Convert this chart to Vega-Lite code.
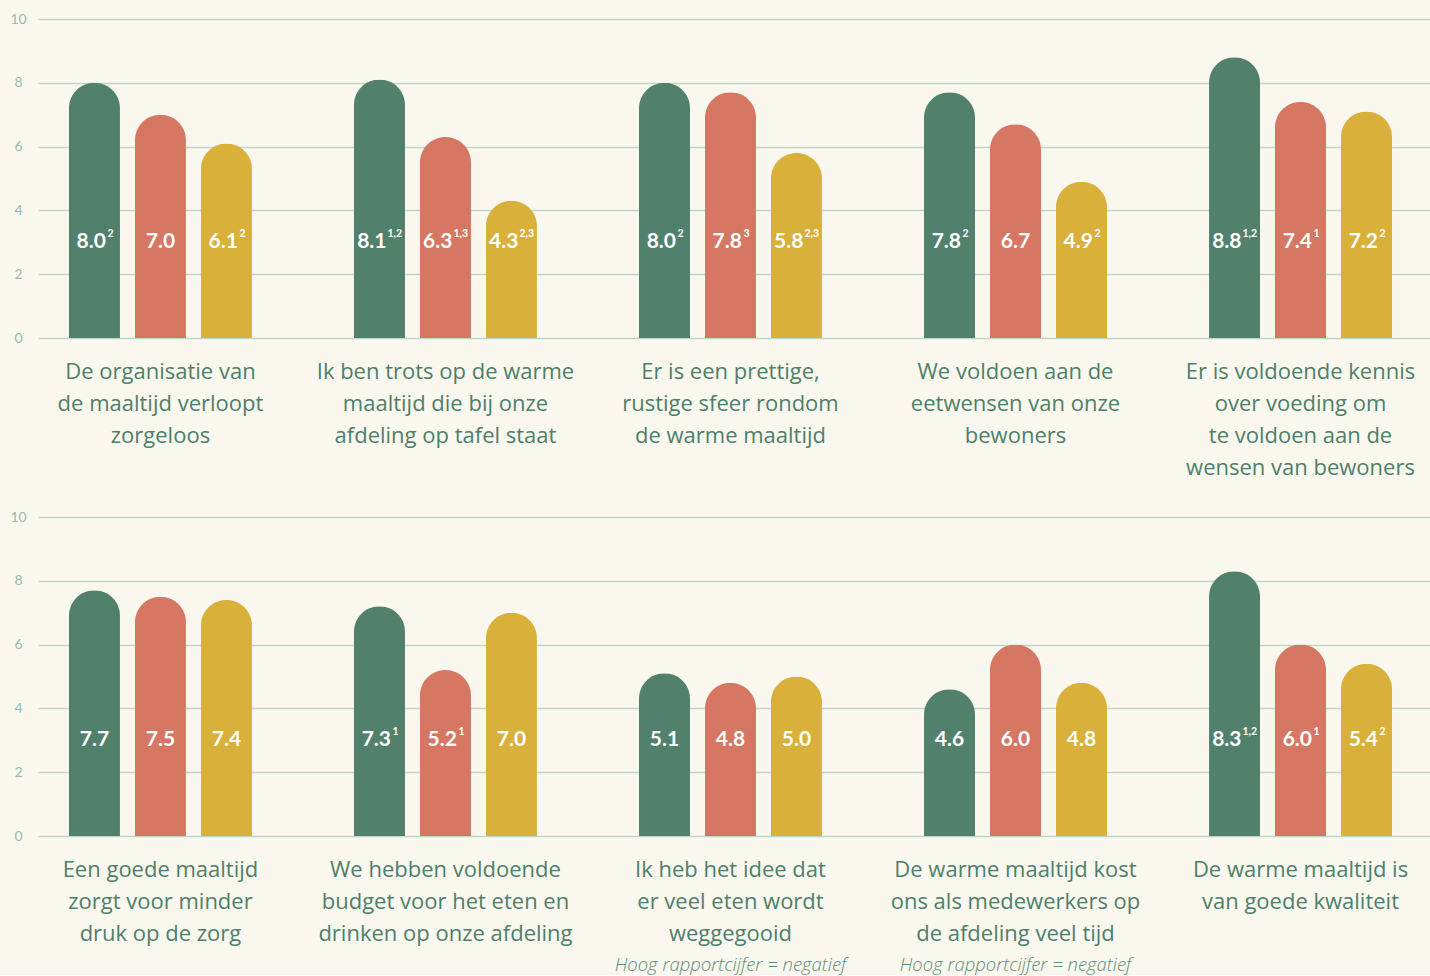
{
  "$schema": "https://vega.github.io/schema/vega-lite/v6.json",
  "background": "#faf7ef",
  "padding": {"left": 9, "top": 12, "right": 0, "bottom": 0},
  "config": {
    "view": {"stroke": null},
    "font": "Lato",
    "axis": {"labelFont": "Lato"}
  },
  "datasets": {
    "rows": [
      {"panel": 1, "q": "De organisatie van|de maaltijd verloopt|zorgeloos", "s": "a", "v": 8.0, "label": "8.0", "sup": "2", "note": ""},
      {"panel": 1, "q": "De organisatie van|de maaltijd verloopt|zorgeloos", "s": "b", "v": 7.0, "label": "7.0", "sup": "", "note": ""},
      {"panel": 1, "q": "De organisatie van|de maaltijd verloopt|zorgeloos", "s": "c", "v": 6.1, "label": "6.1", "sup": "2", "note": ""},
      {"panel": 1, "q": "Ik ben trots op de warme|maaltijd die bij onze|afdeling op tafel staat", "s": "a", "v": 8.1, "label": "8.1", "sup": "1,2", "note": ""},
      {"panel": 1, "q": "Ik ben trots op de warme|maaltijd die bij onze|afdeling op tafel staat", "s": "b", "v": 6.3, "label": "6.3", "sup": "1,3", "note": ""},
      {"panel": 1, "q": "Ik ben trots op de warme|maaltijd die bij onze|afdeling op tafel staat", "s": "c", "v": 4.3, "label": "4.3", "sup": "2,3", "note": ""},
      {"panel": 1, "q": "Er is een prettige,|rustige sfeer rondom|de warme maaltijd", "s": "a", "v": 8.0, "label": "8.0", "sup": "2", "note": ""},
      {"panel": 1, "q": "Er is een prettige,|rustige sfeer rondom|de warme maaltijd", "s": "b", "v": 7.7, "label": "7.8", "sup": "3", "note": ""},
      {"panel": 1, "q": "Er is een prettige,|rustige sfeer rondom|de warme maaltijd", "s": "c", "v": 5.8, "label": "5.8", "sup": "2,3", "note": ""},
      {"panel": 1, "q": "We voldoen aan de|eetwensen van onze|bewoners", "s": "a", "v": 7.7, "label": "7.8", "sup": "2", "note": ""},
      {"panel": 1, "q": "We voldoen aan de|eetwensen van onze|bewoners", "s": "b", "v": 6.7, "label": "6.7", "sup": "", "note": ""},
      {"panel": 1, "q": "We voldoen aan de|eetwensen van onze|bewoners", "s": "c", "v": 4.9, "label": "4.9", "sup": "2", "note": ""},
      {"panel": 1, "q": "Er is voldoende kennis|over voeding om|te voldoen aan de|wensen van bewoners", "s": "a", "v": 8.8, "label": "8.8", "sup": "1,2", "note": ""},
      {"panel": 1, "q": "Er is voldoende kennis|over voeding om|te voldoen aan de|wensen van bewoners", "s": "b", "v": 7.4, "label": "7.4", "sup": "1", "note": ""},
      {"panel": 1, "q": "Er is voldoende kennis|over voeding om|te voldoen aan de|wensen van bewoners", "s": "c", "v": 7.1, "label": "7.2", "sup": "2", "note": ""},
      {"panel": 2, "q": "Een goede maaltijd|zorgt voor minder|druk op de zorg", "s": "a", "v": 7.7, "label": "7.7", "sup": "", "note": ""},
      {"panel": 2, "q": "Een goede maaltijd|zorgt voor minder|druk op de zorg", "s": "b", "v": 7.5, "label": "7.5", "sup": "", "note": ""},
      {"panel": 2, "q": "Een goede maaltijd|zorgt voor minder|druk op de zorg", "s": "c", "v": 7.4, "label": "7.4", "sup": "", "note": ""},
      {"panel": 2, "q": "We hebben voldoende|budget voor het eten en|drinken op onze afdeling", "s": "a", "v": 7.2, "label": "7.3", "sup": "1", "note": ""},
      {"panel": 2, "q": "We hebben voldoende|budget voor het eten en|drinken op onze afdeling", "s": "b", "v": 5.2, "label": "5.2", "sup": "1", "note": ""},
      {"panel": 2, "q": "We hebben voldoende|budget voor het eten en|drinken op onze afdeling", "s": "c", "v": 7.0, "label": "7.0", "sup": "", "note": ""},
      {"panel": 2, "q": "Ik heb het idee dat|er veel eten wordt|weggegooid", "s": "a", "v": 5.1, "label": "5.1", "sup": "", "note": ""},
      {"panel": 2, "q": "Ik heb het idee dat|er veel eten wordt|weggegooid", "s": "b", "v": 4.8, "label": "4.8", "sup": "", "note": "Hoog rapportcijfer = negatief"},
      {"panel": 2, "q": "Ik heb het idee dat|er veel eten wordt|weggegooid", "s": "c", "v": 5.0, "label": "5.0", "sup": "", "note": ""},
      {"panel": 2, "q": "De warme maaltijd kost|ons als medewerkers op|de afdeling veel tijd", "s": "a", "v": 4.6, "label": "4.6", "sup": "", "note": ""},
      {"panel": 2, "q": "De warme maaltijd kost|ons als medewerkers op|de afdeling veel tijd", "s": "b", "v": 6.0, "label": "6.0", "sup": "", "note": "Hoog rapportcijfer = negatief"},
      {"panel": 2, "q": "De warme maaltijd kost|ons als medewerkers op|de afdeling veel tijd", "s": "c", "v": 4.8, "label": "4.8", "sup": "", "note": ""},
      {"panel": 2, "q": "De warme maaltijd is|van goede kwaliteit", "s": "a", "v": 8.3, "label": "8.3", "sup": "1,2", "note": ""},
      {"panel": 2, "q": "De warme maaltijd is|van goede kwaliteit", "s": "b", "v": 6.0, "label": "6.0", "sup": "1", "note": ""},
      {"panel": 2, "q": "De warme maaltijd is|van goede kwaliteit", "s": "c", "v": 5.4, "label": "5.4", "sup": "2", "note": ""}
    ]
  },
  "data": {"name": "rows"},
  "spacing": 32,
  "vconcat": [
    {
      "width": 1392,
      "height": 319,
      "transform": [{"filter": "datum.panel == 1"}],
      "encoding": {
        "x": {
          "field": "q", "type": "nominal", "sort": null,
          "scale": {"paddingInner": 0.358, "paddingOuter": 0.121, "align": 0.449},
          "axis": {
            "title": null, "domain": false, "ticks": false, "labelAngle": 0,
            "labelExpr": "split(datum.value, '|')", "labelFontSize": 22,
            "labelLineHeight": 32, "labelColor": "#4e7f6a", "labelPadding": 23,
            "labelOverlap": false, "labelLimit": 0, "labelFont": "Open Sans", "labelFontWeight": 400
          }
        },
        "xOffset": {"field": "s", "type": "nominal", "scale": {"paddingInner": 0.227, "paddingOuter": 0}}
      },
      "layer": [
        {
          "mark": {"type": "bar", "cornerRadiusTopLeft": 25.5, "cornerRadiusTopRight": 25.5},
          "encoding": {
            "y": {
              "field": "v", "type": "quantitative",
              "scale": {"domain": [0, 10], "nice": false},
              "axis": {
                "title": null, "values": [0, 2, 4, 6, 8, 10], "domain": false, "ticks": false,
                "tickSize": 0, "labelPadding": 20, "labelAlign": "center", "labelFontSize": 14,
                "labelColor": "#9cb9a7", "gridColor": "#bfd5c6", "gridWidth": 1.3
              }
            },
            "color": {"field": "s", "type": "nominal", "legend": null,
              "scale": {"domain": ["a", "b", "c"], "range": ["#51806d", "#d57762", "#d9b13a"]}}
          }
        },
        {
          "mark": {"type": "text", "align": "center", "baseline": "alphabetic", "fontSize": 21, "fontWeight": "bold", "color": "#ffffff"},
          "encoding": {"y": {"datum": 2.83}, "text": {"condition": {"test": "datum.sup == ''", "field": "label"}, "value": ""}}
        },
        {
          "mark": {"type": "text", "align": "right", "dx": 11.5, "baseline": "alphabetic", "fontSize": 21, "fontWeight": "bold", "color": "#ffffff"},
          "encoding": {"y": {"datum": 2.83}, "text": {"condition": {"test": "length(datum.sup) == 1", "field": "label"}, "value": ""}}
        },
        {
          "mark": {"type": "text", "align": "left", "dx": 13, "dy": -10.5, "baseline": "alphabetic", "fontSize": 10.5, "fontWeight": "bold", "color": "#ffffff"},
          "encoding": {"y": {"datum": 2.83}, "text": {"condition": {"test": "length(datum.sup) == 1", "field": "sup"}, "value": ""}}
        },
        {
          "mark": {"type": "text", "align": "right", "dx": 7, "baseline": "alphabetic", "fontSize": 21, "fontWeight": "bold", "color": "#ffffff"},
          "encoding": {"y": {"datum": 2.83}, "text": {"condition": {"test": "length(datum.sup) == 3", "field": "label"}, "value": ""}}
        },
        {
          "mark": {"type": "text", "align": "left", "dx": 8, "dy": -10.5, "baseline": "alphabetic", "fontSize": 10.5, "fontWeight": "bold", "color": "#ffffff"},
          "encoding": {"y": {"datum": 2.83}, "text": {"condition": {"test": "length(datum.sup) == 3", "field": "sup"}, "value": ""}}
        }
      ]
    },
    {
      "width": 1392,
      "height": 319,
      "transform": [{"filter": "datum.panel == 2"}],
      "encoding": {
        "x": {
          "field": "q", "type": "nominal", "sort": null,
          "scale": {"paddingInner": 0.358, "paddingOuter": 0.121, "align": 0.449},
          "axis": {
            "title": null, "domain": false, "ticks": false, "labelAngle": 0,
            "labelExpr": "split(datum.value, '|')", "labelFontSize": 22,
            "labelLineHeight": 32, "labelColor": "#4e7f6a", "labelPadding": 23,
            "labelOverlap": false, "labelLimit": 0, "labelFont": "Open Sans", "labelFontWeight": 400
          }
        },
        "xOffset": {"field": "s", "type": "nominal", "scale": {"paddingInner": 0.227, "paddingOuter": 0}}
      },
      "layer": [
        {
          "mark": {"type": "bar", "cornerRadiusTopLeft": 25.5, "cornerRadiusTopRight": 25.5},
          "encoding": {
            "y": {
              "field": "v", "type": "quantitative",
              "scale": {"domain": [0, 10], "nice": false},
              "axis": {
                "title": null, "values": [0, 2, 4, 6, 8, 10], "domain": false, "ticks": false,
                "tickSize": 0, "labelPadding": 20, "labelAlign": "center", "labelFontSize": 14,
                "labelColor": "#9cb9a7", "gridColor": "#bfd5c6", "gridWidth": 1.3
              }
            },
            "color": {"field": "s", "type": "nominal", "legend": null,
              "scale": {"domain": ["a", "b", "c"], "range": ["#51806d", "#d57762", "#d9b13a"]}}
          }
        },
        {
          "mark": {"type": "text", "align": "center", "baseline": "alphabetic", "fontSize": 21, "fontWeight": "bold", "color": "#ffffff"},
          "encoding": {"y": {"datum": 2.83}, "text": {"condition": {"test": "datum.sup == ''", "field": "label"}, "value": ""}}
        },
        {
          "mark": {"type": "text", "align": "right", "dx": 11.5, "baseline": "alphabetic", "fontSize": 21, "fontWeight": "bold", "color": "#ffffff"},
          "encoding": {"y": {"datum": 2.83}, "text": {"condition": {"test": "length(datum.sup) == 1", "field": "label"}, "value": ""}}
        },
        {
          "mark": {"type": "text", "align": "left", "dx": 13, "dy": -10.5, "baseline": "alphabetic", "fontSize": 10.5, "fontWeight": "bold", "color": "#ffffff"},
          "encoding": {"y": {"datum": 2.83}, "text": {"condition": {"test": "length(datum.sup) == 1", "field": "sup"}, "value": ""}}
        },
        {
          "mark": {"type": "text", "align": "right", "dx": 7, "baseline": "alphabetic", "fontSize": 21, "fontWeight": "bold", "color": "#ffffff"},
          "encoding": {"y": {"datum": 2.83}, "text": {"condition": {"test": "length(datum.sup) == 3", "field": "label"}, "value": ""}}
        },
        {
          "mark": {"type": "text", "align": "left", "dx": 8, "dy": -10.5, "baseline": "alphabetic", "fontSize": 10.5, "fontWeight": "bold", "color": "#ffffff"},
          "encoding": {"y": {"datum": 2.83}, "text": {"condition": {"test": "length(datum.sup) == 3", "field": "sup"}, "value": ""}}
        },
        {
          "mark": {"type": "text", "align": "center", "baseline": "middle", "fontSize": 18.5, "fontStyle": "italic", "font": "Open Sans", "fontWeight": 300, "color": "#5f8d79"},
          "encoding": {"y": {"datum": -4.05}, "text": {"field": "note"}}
        }
      ]
    }
  ]
}
